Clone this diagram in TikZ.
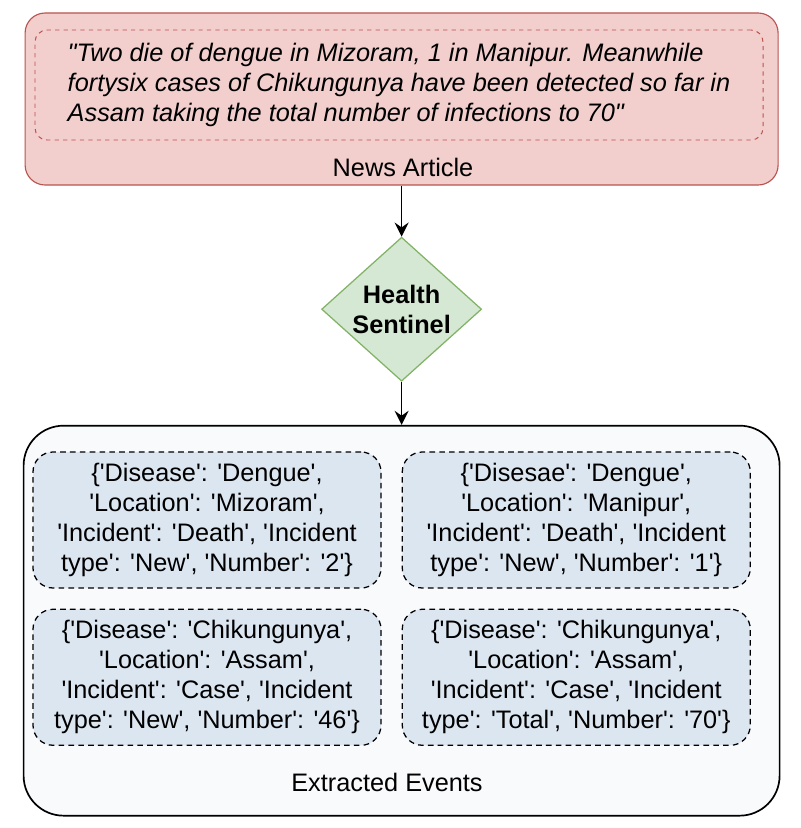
\documentclass[tikz,border=0pt]{standalone}
\usepackage{fontspec}
\setmainfont{Liberation Sans}
\usepackage{xcolor}
\usetikzlibrary{positioning,shapes,arrows.meta}

\definecolor{newsfill}{RGB}{242,206,205}
\definecolor{newsline}{RGB}{184,84,80}
\definecolor{botfill}{RGB}{213,232,212}
\definecolor{botline}{RGB}{130,179,102}
\definecolor{eventfill}{RGB}{220,230,241}
\definecolor{outerfill}{RGB}{248,250,252}
\newcommand{\sqm}{\textquotesingle}
\newcommand{\dqm}{\textquotedbl}

\begin{document}
\begin{tikzpicture}[auto, node distance=2cm, >={Stealth[length=10pt,width=10pt,inset=3.5pt]},
    font=\fontsize{18}{21.3}\selectfont,
    eventbox/.style={draw, dashed, dash pattern=on 4pt off 3pt, line width=0.9pt, fill=eventfill,
        rounded corners=0.5cm, minimum width=8.7cm, minimum height=3.4cm, align=center}]
        \useasboundingbox (0,0) rectangle (20,-20.7);
        \node [draw=newsline, fill=newsfill, line width=0.8pt, rounded corners=0.5cm, minimum width=18.825cm, minimum height=4.3cm] (article) at (10.04,-2.475) {};
        \node [draw=newsline, dashed, line width=0.7pt, rounded corners=0.3cm, minimum width=18.2cm, minimum height=2.75cm, align=left, font=\fontsize{18}{21.3}\selectfont\itshape] (quote) at (9.975,-2.125) {\dqm Two die of dengue in Mizoram, 1 in Manipur. Meanwhile\\fortysix cases of Chikungunya have been detected so far in\\Assam taking the total number of infections to 70\dqm};
        \node (articlename) at (10.075,-4.175) {News Article};
        \node [draw=botline, fill=botfill, diamond, aspect=1.11, inner sep=0pt, line width=0.9pt, minimum width=4cm, minimum height=3.6cm, align=center, font=\fontsize{18}{21.3}\selectfont\bfseries, below=1.275cm of article] (sentinel) {Health\\Sentinel};
        \node [draw, fill=outerfill, line width=1.2pt, rounded corners=1cm, minimum width=18.9cm, minimum height=9.75cm, below=1.075cm of sentinel] (events) {};

        \node [eventbox] (dengue1) at (5.175,-13.0) {\{\sqm Disease\sqm: \sqm Dengue\sqm,\\\sqm Location\sqm: \sqm Mizoram\sqm,\\\sqm Incident\sqm: \sqm Death\sqm, \sqm Incident\\type\sqm: \sqm New\sqm, \sqm Number\sqm: \sqm 2\sqm\}};
        \node [eventbox, right=0.5cm of dengue1] (dengue2) {\{\sqm Disesae\sqm: \sqm Dengue\sqm,\\\sqm Location\sqm: \sqm Manipur\sqm,\\\sqm Incident\sqm: \sqm Death\sqm, \sqm Incident\\type\sqm: \sqm New\sqm, \sqm Number\sqm: \sqm 1\sqm\}};
        \node [eventbox, below=0.5cm of dengue1] (chik1) {\{\sqm Disease\sqm: \sqm Chikungunya\sqm,\\\sqm Location\sqm: \sqm Assam\sqm,\\\sqm Incident\sqm: \sqm Case\sqm, \sqm Incident\\type\sqm: \sqm New\sqm, \sqm Number\sqm: \sqm 46\sqm\}};
        \node [eventbox, below=0.5cm of dengue2] (chik2) {\{\sqm Disease\sqm: \sqm Chikungunya\sqm,\\\sqm Location\sqm: \sqm Assam\sqm,\\\sqm Incident\sqm: \sqm Case\sqm, \sqm Incident\\type\sqm: \sqm Total\sqm, \sqm Number\sqm: \sqm 70\sqm\}};
        \node (eventsname) at (9.675,-19.55) {Extracted Events};

        \draw[->, line width=1pt] (article) -- (sentinel);
        \draw[->, line width=1pt] (sentinel) -- (events);
    \end{tikzpicture}
\end{document}
